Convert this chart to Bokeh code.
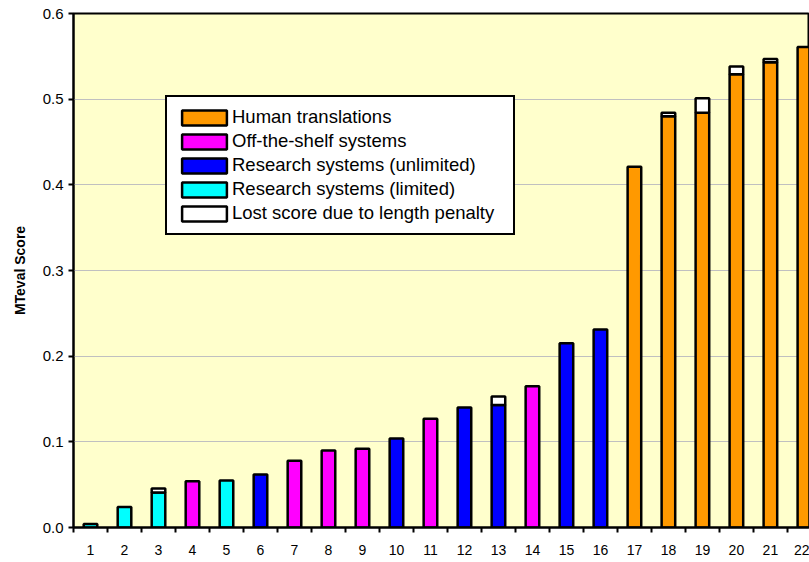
from bokeh.plotting import figure
from bokeh.models import (ColumnDataSource, FixedTicker, Range1d, Legend, LegendItem,
                          NumeralTickFormatter)
from bokeh.embed import file_html
from bokeh.resources import INLINE

# ---- data ----
systems = list(range(1, 23))
groups = ["limited", "limited", "limited", "offshelf", "limited", "unlimited",
          "offshelf", "offshelf", "offshelf", "unlimited", "offshelf", "unlimited",
          "unlimited", "offshelf", "unlimited", "unlimited",
          "human", "human", "human", "human", "human", "human"]
scores = [0.004, 0.024, 0.041, 0.054, 0.055, 0.062, 0.078, 0.090, 0.092, 0.104,
          0.127, 0.140, 0.143, 0.165, 0.215, 0.231, 0.421, 0.480, 0.484, 0.529,
          0.543, 0.561]
lost = [0, 0, 0.0045, 0, 0, 0, 0, 0, 0, 0, 0, 0, 0.010, 0, 0, 0, 0, 0.004,
        0.017, 0.009, 0.004, 0]
y_ticks = [0.0, 0.1, 0.2, 0.3, 0.4, 0.5, 0.6]

series = [
    ("human", "Human translations", "#FF9900"),
    ("offshelf", "Off-the-shelf systems", "#FF00FF"),
    ("unlimited", "Research systems (unlimited)", "#0000FF"),
    ("limited", "Research systems (limited)", "#00FFFF"),
]

FONT = "Liberation Sans"

p = figure(width=809, height=562, output_backend="svg", toolbar_location=None,
           x_range=Range1d(0.5, 22.15), y_range=Range1d(0, 0.6))
p.min_border_left = 73
p.min_border_right = 0
p.min_border_top = 13
p.min_border_bottom = 35

p.background_fill_color = "#FFFFCC"
p.border_fill_color = "white"
p.outline_line_color = "black"
p.outline_line_width = 2
p.outline_line_alpha = 1

# bars
items = []
for key, label, color in series:
    xs = [s for s, g in zip(systems, groups) if g == key]
    ys = [v for v, g in zip(scores, groups) if g == key]
    src = ColumnDataSource(dict(x=xs, top=ys))
    r = p.vbar(x="x", top="top", bottom=0, width=0.4, source=src,
               fill_color=color, line_color="black", line_width=2.5)
    items.append(LegendItem(label=label, renderers=[r]))

lx = [s for s, l in zip(systems, lost) if l > 0]
lb = [v for v, l in zip(scores, lost) if l > 0]
lt = [v + l for v, l in zip(scores, lost) if l > 0]
lsrc = ColumnDataSource(dict(x=lx, bottom=lb, top=lt))
rl = p.vbar(x="x", top="top", bottom="bottom", width=0.4, source=lsrc,
            fill_color="white", line_color="black", line_width=2.5)
items.append(LegendItem(label="Lost score due to length penalty", renderers=[rl]))

# axes
p.xaxis.ticker = FixedTicker(ticks=systems, minor_ticks=[s - 0.5 for s in systems] + [22.5])
p.xaxis.major_tick_out = 0
p.xaxis.major_tick_in = 0
p.xaxis.minor_tick_out = 5
p.xaxis.minor_tick_in = 0
p.xaxis.minor_tick_line_color = "black"
p.xaxis.minor_tick_line_width = 2
p.xaxis.axis_line_color = "black"
p.xaxis.axis_line_width = 2
p.xaxis.major_label_standoff = 12
p.xaxis.major_label_text_font = FONT
p.xaxis.major_label_text_font_size = "14px"
p.xaxis.major_label_text_color = "black"

p.yaxis.ticker = FixedTicker(ticks=y_ticks)
p.yaxis.formatter = NumeralTickFormatter(format="0.0")
p.yaxis.major_tick_out = 5
p.yaxis.major_tick_in = 0
p.yaxis.major_tick_line_width = 2
p.yaxis.minor_tick_line_color = None
p.yaxis.axis_line_color = "black"
p.yaxis.axis_line_width = 2
p.yaxis.major_label_standoff = 5
p.yaxis.major_label_text_font = FONT
p.yaxis.major_label_text_font_size = "15px"
p.yaxis.major_label_text_color = "black"
p.yaxis.axis_label = "MTeval Score"
p.yaxis.axis_label_text_font = FONT
p.yaxis.axis_label_text_font_size = "14px"
p.yaxis.axis_label_text_font_style = "bold"
p.yaxis.axis_label_text_color = "black"
p.yaxis.axis_label_standoff = 12

p.xgrid.visible = False
p.ygrid.ticker = FixedTicker(ticks=y_ticks)
p.ygrid.grid_line_color = "#C0C0C0"
p.ygrid.grid_line_width = 1

legend = Legend(items=items, location=(92, 292))
legend.border_line_color = "black"
legend.border_line_width = 2
legend.border_line_alpha = 1
legend.background_fill_color = "white"
legend.background_fill_alpha = 1
legend.glyph_width = 56
legend.glyph_height = 19
legend.label_text_font = FONT
legend.label_text_font_size = "18.5px"
legend.label_text_color = "black"
legend.label_standoff = 0
legend.label_width = 272
legend.label_height = 21
legend.spacing = 2
legend.padding = 9
legend.margin = 0
p.add_layout(legend, "center")

open("out.html", "w").write(file_html(p, INLINE))
